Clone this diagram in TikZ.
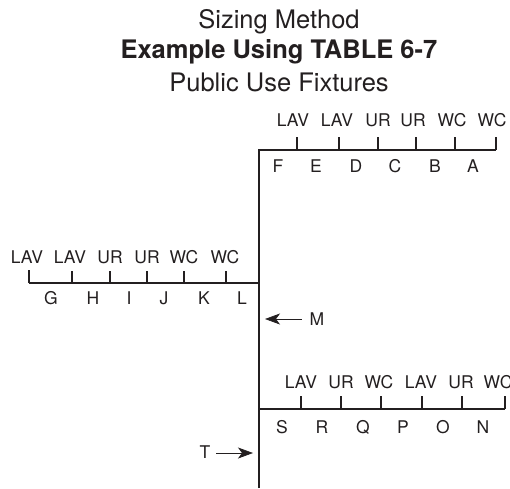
\documentclass[tikz,border=0pt]{standalone}
\usepackage{fontspec}
\setmainfont{TeX Gyre Heros}
\usetikzlibrary{arrows.meta}
\definecolor{ink}{HTML}{231F20}
\tikzset{
	pipe/.style={line width=1.5pt, draw=ink},
	branch/.style={line width=1.4pt, draw=ink},
	stub/.style={line width=1.1pt, draw=ink},
	fixture/.style={font=\fontsize{17.5}{20}\selectfont, text=ink, inner sep=0pt},
	flow/.style={draw=ink, line width=0.7pt, -{Stealth[length=15pt,width=11pt,inset=4pt]}},
	heading/.style={font=\fontsize{25.5}{30}\selectfont, text=ink, inner sep=0pt}
}
\begin{document}
\begin{tikzpicture}[x=1pt,y=-1pt]
	\useasboundingbox (0,0) rectangle (510,488);
	\clip (0,0) rectangle (510,488);
	\node[heading] (title1) at (279,22) {Sizing Method};
	\node[heading] (title2) at (279,52) {\textbf{Example Using TABLE 6-7}};
	\node[heading] (title3) at (279,82) {Public Use Fixtures};

	% main
	\coordinate (riser) at (259,488);
	\coordinate (top) at (259,150);
	\coordinate (topend) at (496,150);
	\coordinate (leftend) at (29,283);
	\coordinate (leftjoin) at (259,283);
	\coordinate (lowjoin) at (259,409);
	\coordinate (lowend) at (505,409);
	\draw[pipe, line join=miter] (riser) -- (top) -- (topend);
	\draw[branch] (leftend) -- (leftjoin);
	\draw[branch] (lowjoin) -- (lowend);

	% ticks
	\foreach \x in {297,339,378,416,455,496}
		\draw[stub] (\x,150) -- (\x,137);
	\foreach \x in {72,110,147,184,226}
		\draw[stub] (\x,283) -- (\x,271);
	\draw[branch] (29,283) -- (29,270);
	\foreach \x in {301,341,381,422,462,505}
		\draw[stub] (\x,409) -- (\x,396);

	% top branch
	\foreach \x/\xtext in {293/LAV,337/LAV,378/UR,413/UR,452/WC,492/WC}
		\node[fixture] (top\x) at (\x,120) {\xtext};
	\foreach \x/\xtext in {278/F,316/E,356/D,395/C,435/B,473/A}
		\node[fixture] (pipe\xtext) at (\x,166) {\xtext};
	% left branch
	\foreach \x/\xtext in {27/LAV,70/LAV,110/UR,147/UR,184/WC,225/WC}
		\node[fixture] (left\x) at (\x,257) {\xtext};
	\foreach \x/\xtext in {51/G,93/H,129/I,164/J,204/K,242/L}
		\node[fixture] (pipe\xtext) at (\x,298) {\xtext};
	% bottom branch
	\foreach \x/\xtext in {301/LAV,341/UR,379/WC,421/LAV,461/UR,498/WC}
		\node[fixture] (low\x) at (\x,382) {\xtext};
	\foreach \x/\xtext in {282/S,322/R,363/Q,403/P,443/O,483/N}
		\node[fixture] (pipe\xtext) at (\x,427) {\xtext};

	% arrows
	\node[fixture] (meter) at (317,319) {M};
	\coordinate (meterhead) at (265,319);
	\draw[flow] (meter.west) ++(-8,0) -- (meterhead);
	\node[fixture] (tee) at (205,452) {T};
	\coordinate (teehead) at (253,453);
	\draw[flow] (216,453) -- (teehead);
\end{tikzpicture}
\end{document}
